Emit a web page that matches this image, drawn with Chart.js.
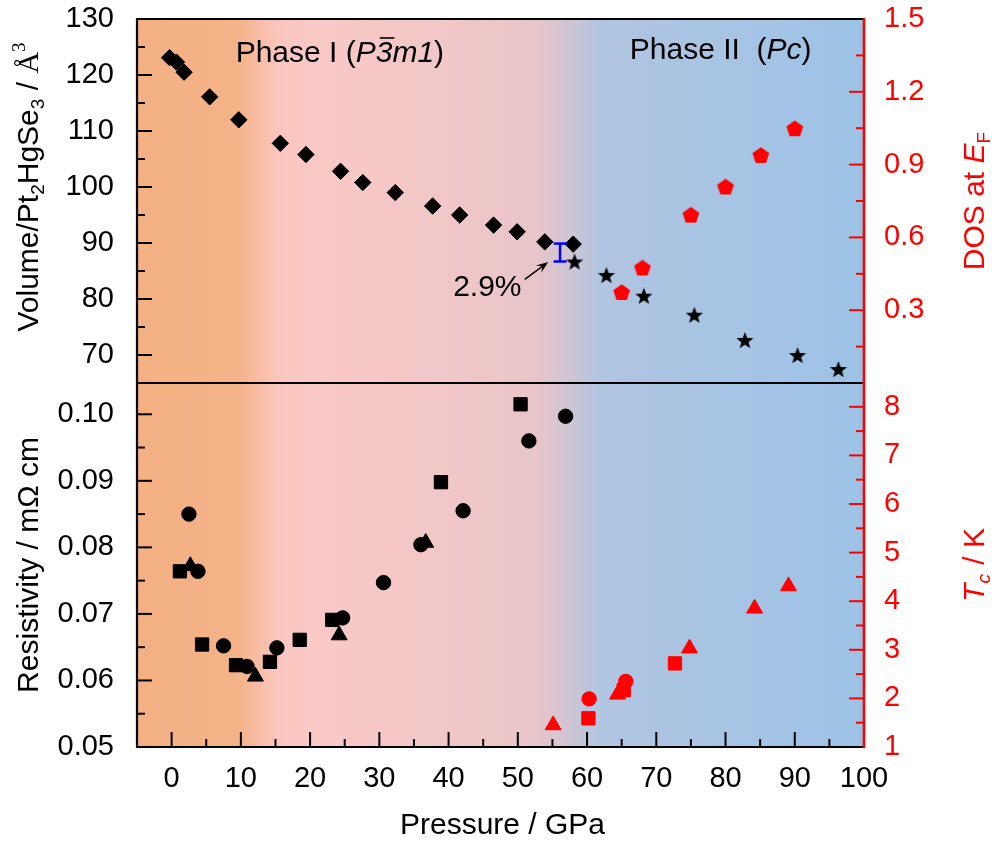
<!DOCTYPE html>
<html>
<head>
<meta charset="utf-8">
<script src="https://cdn.jsdelivr.net/npm/chart.js@4.4.1/dist/chart.umd.min.js"></script>
<style>
  html, body { margin: 0; padding: 0; background: #fff; }
  #wrap { width: 995px; height: 841px; }
</style>
</head>
<body>
<div id="wrap"><canvas id="chart" width="995" height="841"></canvas></div>
<script>
// volume per formula unit (top panel, left axis)
const volDiaP = [-0.3, 0.7, 1.8, 5.5, 9.7, 15.7, 19.4, 24.4, 27.6, 32.3, 37.7, 41.6, 46.5, 49.9, 53.9, 58.0];
const volDiaV = [123.1, 122.3, 120.5, 116.1, 112.0, 107.8, 105.8, 102.8, 100.8, 99.0, 96.6, 95.0, 93.2, 92.0, 90.2, 89.8];
const volStarP = [58.2, 62.8, 68.2, 75.5, 82.8, 90.4, 96.3];
const volStarV = [86.7, 84.3, 80.6, 77.2, 72.7, 70.0, 67.5];
const gapP = [56.1, 56.1];
const gapV = [89.9, 86.7];

// DOS at E_F (top panel, right axis)
const dosP = [65.0, 68.0, 75.0, 80.0, 85.1, 90.0];
const dosV = [0.375, 0.476, 0.694, 0.81, 0.94, 1.05];

// resistivity (bottom panel, left axis)
const resSqP = [1.2, 4.4, 9.3, 14.2, 18.5, 23.2, 38.9, 50.4];
const resSqR = [0.0764, 0.0654, 0.0623, 0.0628, 0.0661, 0.0691, 0.0898, 0.1015];
const resCirP = [2.5, 3.8, 7.5, 10.9, 15.2, 24.7, 30.6, 36.0, 42.1, 51.6, 56.9];
const resCirR = [0.0850, 0.0764, 0.0652, 0.0621, 0.0649, 0.0694, 0.0747, 0.0804, 0.0855, 0.0960, 0.0997];
const resTriP = [2.7, 12.1, 24.2, 36.7];
const resTriR = [0.0772, 0.0606, 0.0668, 0.0807];

// Tc (bottom panel, right axis)
const tcTriP = [55.1, 64.4, 74.8, 84.2, 89.1];
const tcTriT = [1.45, 2.08, 3.03, 3.85, 4.31];
const tcSqP = [60.2, 65.3, 72.7];
const tcSqT = [1.59, 2.17, 2.72];
const tcCirP = [60.3, 65.6];
const tcCirT = [1.99, 2.35];

const FONT = '"Liberation Sans", Arial, sans-serif';
const SERIF = '"Liberation Serif", "Times New Roman", serif';
const RED = '#FF0000';

const pts = (xs, ys) => xs.map((x, i) => ({ x: x, y: ys[i] }));

function makeStar(color, R, r) {
  const c = document.createElement('canvas');
  c.width = c.height = Math.ceil(R * 2 + 2);
  const g = c.getContext('2d');
  const m = c.width / 2;
  g.beginPath();
  for (let i = 0; i < 10; i++) {
    const a = -Math.PI / 2 + i * Math.PI / 5;
    const rr = i % 2 ? r : R;
    g.lineTo(m + rr * Math.cos(a), m + 1 + rr * Math.sin(a));
  }
  g.closePath();
  g.fillStyle = color;
  g.fill();
  return c;
}

function makePentagon(color, R) {
  const c = document.createElement('canvas');
  c.width = c.height = Math.ceil(R * 2 + 2);
  const g = c.getContext('2d');
  const m = c.width / 2;
  g.beginPath();
  for (let i = 0; i < 5; i++) {
    const a = -Math.PI / 2 + i * 2 * Math.PI / 5;
    g.lineTo(m + R * Math.cos(a), m + 1 + R * Math.sin(a));
  }
  g.closePath();
  g.fillStyle = color;
  g.fill();
  return c;
}

const starImg = makeStar('#000', 9, 3.8);
const pentImg = makePentagon(RED, 8.8);

function ds(data, axis, style, color, radius) {
  return {
    data: data, yAxisID: axis, pointStyle: style,
    pointRadius: radius, pointBackgroundColor: color, pointBorderColor: color,
    pointBorderWidth: 1, showLine: false
  };
}

// draw a run of text pieces (normal / italic / sub / sup) centred on cx, cy
function drawRich(ctx, segs, cx, cy, rot, color) {
  ctx.save();
  ctx.translate(cx, cy);
  ctx.rotate(rot);
  let w = 0;
  segs.forEach(s => { ctx.font = s.font; w += ctx.measureText(s.t).width + (s.gap || 0); });
  let x = -w / 2;
  ctx.fillStyle = color;
  ctx.strokeStyle = color;
  ctx.textAlign = 'left';
  ctx.textBaseline = 'alphabetic';
  segs.forEach(s => {
    ctx.font = s.font;
    const tw = ctx.measureText(s.t).width;
    ctx.fillText(s.t, x, 10.5 + (s.dy || 0));
    if (s.bar) {
      ctx.lineWidth = 1.6;
      ctx.beginPath();
      ctx.moveTo(x + 4, -13.5);
      ctx.lineTo(x + tw + 2, -13.5);
      ctx.stroke();
    }
    x += tw + (s.gap || 0);
  });
  ctx.restore();
}

const N = 30, S = 19;
const fN = N + 'px ' + FONT, fI = 'italic ' + N + 'px ' + FONT;
const fS = S + 'px ' + FONT, fSI = 'italic ' + S + 'px ' + FONT;

const volTitle = [
  { t: 'Volume/Pt', font: fN }, { t: '2', font: fS, dy: 6 }, { t: 'HgSe', font: fN },
  { t: '3', font: fS, dy: 6 }, { t: ' / ', font: fN }, { t: 'Å', font: N + 'px ' + SERIF },
  { t: '3', font: S + 'px ' + SERIF, dy: -13 }
];
const resTitle = [{ t: 'Resistivity / mΩ cm', font: fN }];
const dosTitle = [{ t: 'DOS at ', font: fN }, { t: 'E', font: fI }, { t: 'F', font: fS, dy: 6 }];
const tcTitle = [{ t: 'T', font: fI }, { t: 'c', font: fSI, dy: 6, gap: 1 }, { t: ' / K', font: fN }];
const xTitle = [{ t: 'Pressure / GPa', font: fN }];
const phase1 = [
  { t: 'Phase I (', font: fN }, { t: 'P', font: fI }, { t: '3', font: fI, bar: true },
  { t: 'm1', font: fI }, { t: ')', font: fN }
];
const phase2 = [{ t: 'Phase II  (', font: fN }, { t: 'Pc', font: fI }, { t: ')', font: fN }];

const phase1At = [24.3, 124.2];
const phase2At = [79.3, 124.7];
const pctAt = [45.6, 82.4];
const arrowFrom = [51.0, 83.5];
const arrowTo = [54.4, 86.6];

const bgPlugin = {
  id: 'bg',
  beforeDatasetsDraw(chart) {
    const { ctx, chartArea: a, scales } = chart;
    const xs = scales.x;
    const stops = [[-5, '#F3B083'], [9.5, '#F4B387'], [15.5, '#FAC6BF'], [20, '#FAC9C5'], [45, '#EEC6C8'],
      [53, '#E7C5CA'], [58, '#CCC5D6'], [62, '#B0C5E1'], [80, '#A7C4E4'], [100, '#9CC3E6']];
    const g = ctx.createLinearGradient(a.left, 0, a.right, 0);
    stops.forEach(s => {
      const t = (xs.getPixelForValue(s[0]) - a.left) / (a.right - a.left);
      g.addColorStop(Math.min(1, Math.max(0, t)), s[1]);
    });
    ctx.save();
    ctx.fillStyle = g;
    ctx.fillRect(a.left, a.top, a.right - a.left, a.bottom - a.top);
    ctx.restore();
  }
};

function tickMarks(ctx, scale, side, major, color, a) {
  ctx.strokeStyle = color;
  ctx.lineWidth = 2;
  scale.ticks.forEach(t => {
    const v = t.value;
    const isMajor = Math.abs(v / major - Math.round(v / major)) < 1e-6;
    const len = isMajor ? 15 : 8;
    const p = scale.getPixelForValue(v);
    ctx.beginPath();
    if (side === 'bottom') {
      if (p <= a.left + 1 || p >= a.right - 1) return;
      ctx.moveTo(p, a.bottom); ctx.lineTo(p, a.bottom - len);
    } else {
      if (p <= scale.top + 1 || p >= scale.bottom - 1) return;
      if (side === 'left') { ctx.moveTo(a.left, p); ctx.lineTo(a.left + len, p); }
      else { ctx.moveTo(a.right, p); ctx.lineTo(a.right - len, p); }
    }
    ctx.stroke();
  });
}

function arrow(ctx, x1, y1, x2, y2) {
  const ang = Math.atan2(y2 - y1, x2 - x1);
  const hl = 12, hw = 4.5;
  ctx.save();
  ctx.strokeStyle = '#000';
  ctx.fillStyle = '#000';
  ctx.lineWidth = 1.6;
  ctx.beginPath();
  ctx.moveTo(x1, y1);
  ctx.lineTo(x2 - Math.cos(ang) * 6, y2 - Math.sin(ang) * 6);
  ctx.stroke();
  ctx.translate(x2, y2);
  ctx.rotate(ang);
  ctx.beginPath();
  ctx.moveTo(0, 0);
  ctx.lineTo(-hl, -hw);
  ctx.lineTo(-hl * 0.6, 0);
  ctx.lineTo(-hl, hw);
  ctx.closePath();
  ctx.fill();
  ctx.restore();
}

const framePlugin = {
  id: 'frame',
  afterDraw(chart) {
    const { ctx, chartArea: a, scales } = chart;
    ctx.save();
    tickMarks(ctx, scales.x, 'bottom', 10, '#000', a);
    tickMarks(ctx, scales.y, 'left', 10, '#000', a);
    tickMarks(ctx, scales.yRes, 'left', 0.01, '#000', a);
    tickMarks(ctx, scales.yDos, 'right', 0.3, RED, a);
    tickMarks(ctx, scales.yTc, 'right', 1, RED, a);

    const mid = scales.y.bottom;
    ctx.strokeStyle = '#000';
    ctx.lineWidth = 2.2;
    ctx.beginPath();
    ctx.moveTo(a.right, a.top); ctx.lineTo(a.left, a.top);
    ctx.lineTo(a.left, a.bottom); ctx.lineTo(a.right, a.bottom);
    ctx.moveTo(a.left, mid); ctx.lineTo(a.right, mid);
    ctx.stroke();
    ctx.strokeStyle = RED;
    ctx.lineWidth = 2.6;
    ctx.beginPath();
    ctx.moveTo(a.right, a.top - 1); ctx.lineTo(a.right, a.bottom + 1);
    ctx.stroke();

    const X = v => scales.x.getPixelForValue(v);
    const Y = v => scales.y.getPixelForValue(v);
    drawRich(ctx, phase1, X(phase1At[0]), Y(phase1At[1]), 0, '#000');
    drawRich(ctx, phase2, X(phase2At[0]), Y(phase2At[1]), 0, '#000');
    drawRich(ctx, [{ t: '2.9%', font: fN }], X(pctAt[0]), Y(pctAt[1]), 0, '#000');
    arrow(ctx, X(arrowFrom[0]), Y(arrowFrom[1]), X(arrowTo[0]), Y(arrowTo[1]));

    drawRich(ctx, volTitle, 27, (scales.y.top + scales.y.bottom) / 2 - 14, -Math.PI / 2, '#000');
    drawRich(ctx, resTitle, 27, (scales.yRes.top + scales.yRes.bottom) / 2, -Math.PI / 2, '#000');
    drawRich(ctx, dosTitle, 973, (scales.yDos.top + scales.yDos.bottom) / 2, -Math.PI / 2, RED);
    drawRich(ctx, tcTitle, 973, (scales.yTc.top + scales.yTc.bottom) / 2, -Math.PI / 2, RED);
    drawRich(ctx, xTitle, (a.left + a.right) / 2 + 2, 823, 0, '#000');
    ctx.restore();
  }
};

const near = (v, step) => Math.abs(v / step - Math.round(v / step)) < 1e-6;

// labels at the panel edges must not push the plot area around
function noPad(s) {
  s.paddingTop = 0; s.paddingBottom = 0; s.paddingLeft = 0; s.paddingRight = 0;
}

function yAxis(pos, weight, min, max, step, color, label) {
  return {
    type: 'linear', position: pos, stack: pos, stackWeight: 1, weight: weight,
    min: min, max: max,
    grid: { display: false, drawTicks: false, tickLength: 0 },
    border: { display: false },
    ticks: {
      stepSize: step, includeBounds: false, autoSkip: false,
      padding: pos === 'left' ? 23 : 20, color: color,
      font: { family: FONT, size: 29 },
      callback: label
    },
    afterFit: s => { s.width = pos === 'left' ? 137 : 131; noPad(s); }
  };
}

new Chart(document.getElementById('chart'), {
  type: 'scatter',
  data: {
    datasets: [
      Object.assign(ds(pts(gapP, gapV), 'y', 'line', '#0000FF', 6.5), {
        showLine: true, borderColor: '#0000FF', borderWidth: 2.5, pointBorderWidth: 2.5
      }),
      ds(pts(volDiaP, volDiaV), 'y', 'rectRot', '#000', 8.2),
      ds(pts(volStarP, volStarV), 'y', starImg, '#000', 8),
      ds(pts(dosP, dosV), 'yDos', pentImg, RED, 8),
      ds(pts(resSqP, resSqR), 'yRes', 'rect', '#000', 9.4),
      ds(pts(resCirP, resCirR), 'yRes', 'circle', '#000', 7.2),
      ds(pts(resTriP, resTriR), 'yRes', 'triangle', '#000', 9.2),
      ds(pts(tcTriP, tcTriT), 'yTc', 'triangle', RED, 9.2),
      ds(pts(tcSqP, tcSqT), 'yTc', 'rect', RED, 9.4),
      ds(pts(tcCirP, tcCirT), 'yTc', 'circle', RED, 7.2)
    ]
  },
  options: {
    responsive: false,
    animation: false,
    devicePixelRatio: 1,
    events: [],
    layout: { padding: { top: 19, left: 0, right: 0, bottom: 0 } },
    plugins: { legend: { display: false }, tooltip: { enabled: false } },
    scales: {
      x: {
        type: 'linear', position: 'bottom', min: -5, max: 100,
        grid: { display: false, drawTicks: false, tickLength: 0 },
        border: { display: false },
        ticks: {
          stepSize: 5, autoSkip: false, maxRotation: 0, padding: 15, color: '#000',
          font: { family: FONT, size: 29 },
          callback: v => (v >= 0 && near(v, 10)) ? String(v) : ''
        },
        afterFit: s => { s.height = 94; noPad(s); }
      },
      y: yAxis('left', 2, 65, 130, 5, '#000', v => near(v, 10) ? String(Math.round(v)) : ''),
      yRes: yAxis('left', 1, 0.05, 0.1047, 0.005, '#000', v => near(v, 0.01) ? v.toFixed(2) : ''),
      yDos: yAxis('right', 1, 0, 1.5, 0.15, RED, v => (v > 0.01 && near(v, 0.3)) ? v.toFixed(1) : ''),
      yTc: yAxis('right', 2, 1, 8.49, 0.5, RED, v => near(v, 1) ? String(Math.round(v)) : '')
    }
  },
  plugins: [bgPlugin, framePlugin]
});
</script>
</body>
</html>
